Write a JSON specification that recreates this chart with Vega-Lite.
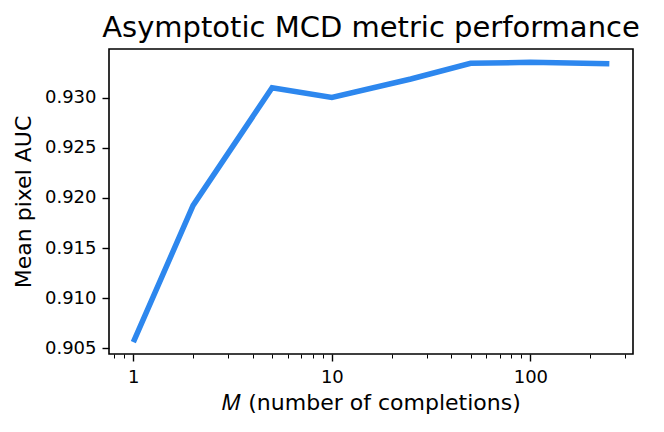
{
  "$schema": "https://vega.github.io/schema/vega-lite/v6.json",
  "autosize": "none",
  "width": 524,
  "height": 305,
  "padding": {"left": 109, "top": 49, "right": 31, "bottom": 78},
  "background": "white",
  "config": {
    "font": "DejaVu Sans",
    "view": {"stroke": "black", "strokeWidth": 1.6},
    "axis": {"grid": false, "domain": false, "tickColor": "black", "labelColor": "black", "titleColor": "black", "titleFontWeight": "normal", "labelFont": "DejaVu Sans", "titleFont": "DejaVu Sans"}
  },
  "title": {"text": "Asymptotic MCD metric performance", "fontSize": 29, "fontWeight": "normal", "font": "DejaVu Sans", "color": "black", "offset": 6, "anchor": "middle"},
  "data": {"values": [
    {"M": 1, "auc": 0.90563},
    {"M": 2, "auc": 0.91926},
    {"M": 5, "auc": 0.93099},
    {"M": 10, "auc": 0.93003},
    {"M": 25, "auc": 0.93186},
    {"M": 50, "auc": 0.93342},
    {"M": 100, "auc": 0.93352},
    {"M": 250, "auc": 0.93338}
  ]},
  "mark": {"type": "line", "color": "#2d87ee", "strokeWidth": 5.5, "strokeCap": "butt", "clip": true},
  "encoding": {
    "x": {"field": "M", "type": "quantitative",
      "scale": {"type": "log", "domain": [0.754, 328.9], "nice": false},
      "axis": {
        "values": [0.8, 0.9, 1, 2, 3, 4, 5, 6, 7, 8, 9, 10, 20, 30, 40, 50, 60, 70, 80, 90, 100, 200, 300],
        "format": "d",
        "labelExpr": "indexof([1, 10, 100], datum.value) >= 0 ? datum.label : ''",
        "labelOverlap": false,
        "labelFontSize": 18,
        "tickSize": {"expr": "indexof([1, 10, 100], datum.value) >= 0 ? 7 : 4"},
        "tickWidth": {"expr": "indexof([1, 10, 100], datum.value) >= 0 ? 1.4 : 1"},
        "labelPadding": 7,
        "title": "𝑀 (number of completions)",
        "titleFontSize": 22,
        "titlePadding": 6}},
    "y": {"field": "auc", "type": "quantitative",
      "scale": {"domain": [0.90445, 0.93485], "nice": false, "zero": false},
      "axis": {"values": [0.905, 0.91, 0.915, 0.92, 0.925, 0.93], "format": ".3f", "labelFontSize": 18, "tickSize": 7, "tickWidth": 1.4, "labelPadding": 6, "title": "Mean pixel AUC", "titleFontSize": 22, "titlePadding": 9}}
  }
}
